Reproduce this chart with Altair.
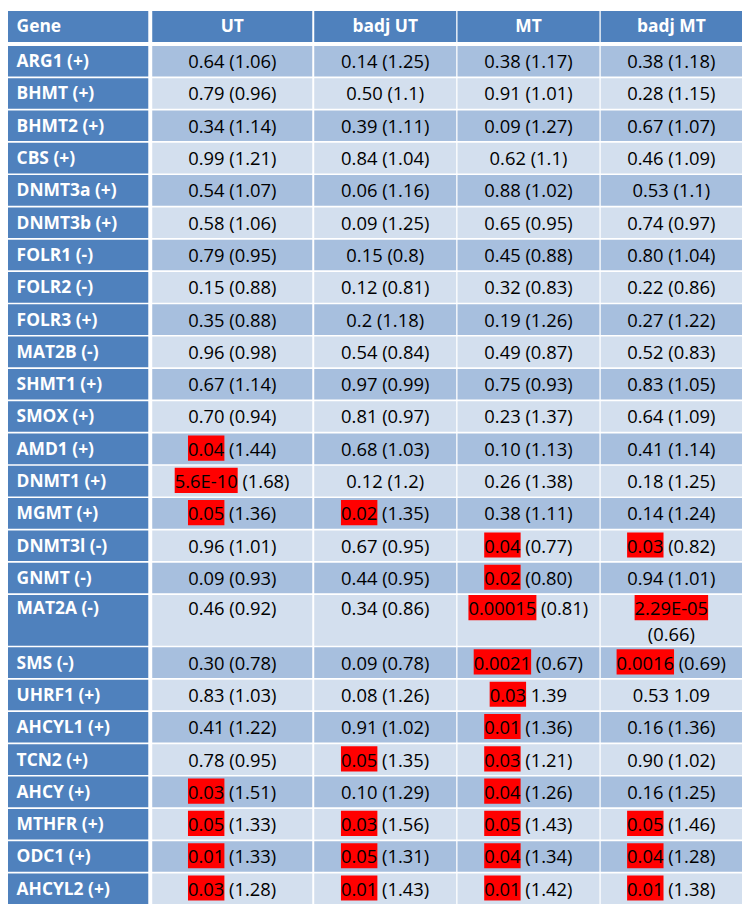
import altair as alt
import pandas as pd

# ---------------- data ----------------
columns = ["Gene", "UT", "badj UT", "MT", "badj MT"]

genes = ["ARG1 (+)", "BHMT (+)", "BHMT2 (+)", "CBS (+)", "DNMT3a (+)", "DNMT3b (+)",
         "FOLR1 (-)", "FOLR2 (-)", "FOLR3 (+)", "MAT2B (-)", "SHMT1 (+)", "SMOX (+)",
         "AMD1 (+)", "DNMT1 (+)", "MGMT (+)", "DNMT3l (-)", "GNMT (-)", "MAT2A (-)",
         "SMS (-)", "UHRF1 (+)", "AHCYL1 (+)", "TCN2 (+)", "AHCY (+)", "MTHFR (+)",
         "ODC1 (+)", "AHCYL2 (+)"]

ut = ["0.64 (1.06)", "0.79 (0.96)", "0.34 (1.14)", "0.99 (1.21)", "0.54 (1.07)", "0.58 (1.06)",
      "0.79 (0.95)", "0.15 (0.88)", "0.35 (0.88)", "0.96 (0.98)", "0.67 (1.14)", "0.70 (0.94)",
      "0.04 (1.44)", "5.6E-10 (1.68)", "0.05 (1.36)", "0.96 (1.01)", "0.09 (0.93)", "0.46 (0.92)",
      "0.30 (0.78)", "0.83 (1.03)", "0.41 (1.22)", "0.78 (0.95)", "0.03 (1.51)", "0.05 (1.33)",
      "0.01 (1.33)", "0.03 (1.28)"]

badj_ut = ["0.14 (1.25)", "0.50 (1.1)", "0.39 (1.11)", "0.84 (1.04)", "0.06 (1.16)", "0.09 (1.25)",
           "0.15 (0.8)", "0.12 (0.81)", "0.2 (1.18)", "0.54 (0.84)", "0.97 (0.99)", "0.81 (0.97)",
           "0.68 (1.03)", "0.12 (1.2)", "0.02 (1.35)", "0.67 (0.95)", "0.44 (0.95)", "0.34 (0.86)",
           "0.09 (0.78)", "0.08 (1.26)", "0.91 (1.02)", "0.05 (1.35)", "0.10 (1.29)", "0.03 (1.56)",
           "0.05 (1.31)", "0.01 (1.43)"]

mt = ["0.38 (1.17)", "0.91 (1.01)", "0.09 (1.27)", "0.62 (1.1)", "0.88 (1.02)", "0.65 (0.95)",
      "0.45 (0.88)", "0.32 (0.83)", "0.19 (1.26)", "0.49 (0.87)", "0.75 (0.93)", "0.23 (1.37)",
      "0.10 (1.13)", "0.26 (1.38)", "0.38 (1.11)", "0.04 (0.77)", "0.02 (0.80)", "0.00015 (0.81)",
      "0.0021 (0.67)", "0.03 1.39", "0.01 (1.36)", "0.03 (1.21)", "0.04 (1.26)", "0.05 (1.43)",
      "0.04 (1.34)", "0.01 (1.42)"]

badj_mt = ["0.38 (1.18)", "0.28 (1.15)", "0.67 (1.07)", "0.46 (1.09)", "0.53 (1.1)", "0.74 (0.97)",
           "0.80 (1.04)", "0.22 (0.86)", "0.27 (1.22)", "0.52 (0.83)", "0.83 (1.05)", "0.64 (1.09)",
           "0.41 (1.14)", "0.18 (1.25)", "0.14 (1.24)", "0.03 (0.82)", "0.94 (1.01)", "2.29E-05\n(0.66)",
           "0.0016 (0.69)", "0.53 1.09", "0.16 (1.36)", "0.90 (1.02)", "0.16 (1.25)", "0.05 (1.46)",
           "0.04 (1.28)", "0.01 (1.38)"]

value_cols = [ut, badj_ut, mt, badj_mt]

# ---------------- layout / style ----------------
W, H = 739, 901
X0, X1 = 4, 747
Y0, Y1 = 2, 909
kx = W / (X1 - X0)
col_edges = [(4, 146), (150, 312), (314, 457.7), (459, 602.7), (604, 747)]
HEAD_Y = (2, 33.3)
FIRST_TOP = 37.3
PITCH = 32.74
EXTRA = 20.3
GAP = 1.7
FS = 18.5
FSB = 17.5
FONT = "Open Sans"
HEADER = "#4F81BD"
BAND1 = "#A7BFDE"
BAND2 = "#D3DFEE"
RED = "#FF0000"

CW = {str(d): 0.572 for d in range(10)}
CW.update({".": 0.266, " ": 0.26, "(": 0.297, ")": 0.297, "E": 0.552, "-": 0.322})


def text_w(s):
    return sum(CW.get(c, 0.55) for c in s) * FS / kx


def is_sig(token):
    try:
        return float(token) <= 0.05
    except ValueError:
        return False


cells, hl, gene_txt, head_txt, ctr_txt, left_txt = [], [], [], [], [], []

for j, (a, b) in enumerate(col_edges):
    cells.append(dict(x=a, x2=b, y=HEAD_Y[0], y2=HEAD_Y[1], fill=HEADER))
    cy = (HEAD_Y[0] + HEAD_Y[1]) / 2 + 1
    if j == 0:
        gene_txt.append(dict(x=a + 8.7, y=cy, t=columns[j]))
    else:
        head_txt.append(dict(x=(a + b) / 2, y=cy, t=columns[j]))

top = FIRST_TOP
for i, g in enumerate(genes):
    vals = [col[i] for col in value_cols]
    nlines = max(v.count("\n") + 1 for v in vals)
    pitch = PITCH + (nlines - 1) * EXTRA
    bot = top + pitch - GAP
    band = BAND1 if i % 2 == 0 else BAND2

    def line_y(k):
        return (top + 15.5 if nlines == 1 else top + 13.5 + k * 26.5)

    for j, (a, b) in enumerate(col_edges):
        cells.append(dict(x=a, x2=b, y=top, y2=bot, fill=HEADER if j == 0 else band))
    gene_txt.append(dict(x=col_edges[0][0] + 8.7, y=line_y(0) + 1, t=g))
    for j, v in enumerate(vals):
        a, b = col_edges[j + 1]
        cx = (a + b) / 2
        for k, line in enumerate(v.split("\n")):
            ly = line_y(k)
            first = line.split(" ")[0]
            if k == 0 and is_sig(first):
                xl = cx - text_w(line) / 2
                left_txt.append(dict(x=xl, y=ly + 1, t=line))
                hl.append(dict(x=xl, x2=xl + text_w(first), y=ly - 13.5, y2=ly + 12))
            else:
                ctr_txt.append(dict(x=cx, y=ly + 1, t=line))
    top += pitch

xs = alt.Scale(domain=[X0, X1], range=[0, W], zero=False, nice=False)
ys = alt.Scale(domain=[Y0, Y1], range=[0, H], zero=False, nice=False)

rect_cells = alt.Chart(pd.DataFrame(cells)).mark_rect().encode(
    x=alt.X("x:Q", scale=xs, axis=None), x2="x2:Q",
    y=alt.Y("y:Q", scale=ys, axis=None), y2="y2:Q",
    color=alt.Color("fill:N", scale=None),
)
rect_hl = alt.Chart(pd.DataFrame(hl)).mark_rect(color=RED).encode(
    x=alt.X("x:Q", scale=xs, axis=None), x2="x2:Q",
    y=alt.Y("y:Q", scale=ys, axis=None), y2="y2:Q",
)


def txt(rows, align, weight, color, size):
    return alt.Chart(pd.DataFrame(rows)).mark_text(
        align=align, baseline="middle", font=FONT, fontSize=size,
        fontWeight=weight, color=color,
    ).encode(
        x=alt.X("x:Q", scale=xs, axis=None),
        y=alt.Y("y:Q", scale=ys, axis=None),
        text="t:N",
    )


chart = alt.layer(
    rect_cells, rect_hl,
    txt(gene_txt, "left", "bold", "white", FSB),
    txt(head_txt, "center", "bold", "white", FSB),
    txt(ctr_txt, "center", "normal", "#000000", FS),
    txt(left_txt, "left", "normal", "#000000", FS),
).properties(
    width=W, height=H, padding=0,
    autosize=alt.AutoSizeParams(type="none"),
    background="white",
).configure_view(stroke=None)

chart.save("out.html", embed_options={"renderer": "svg", "actions": False})
